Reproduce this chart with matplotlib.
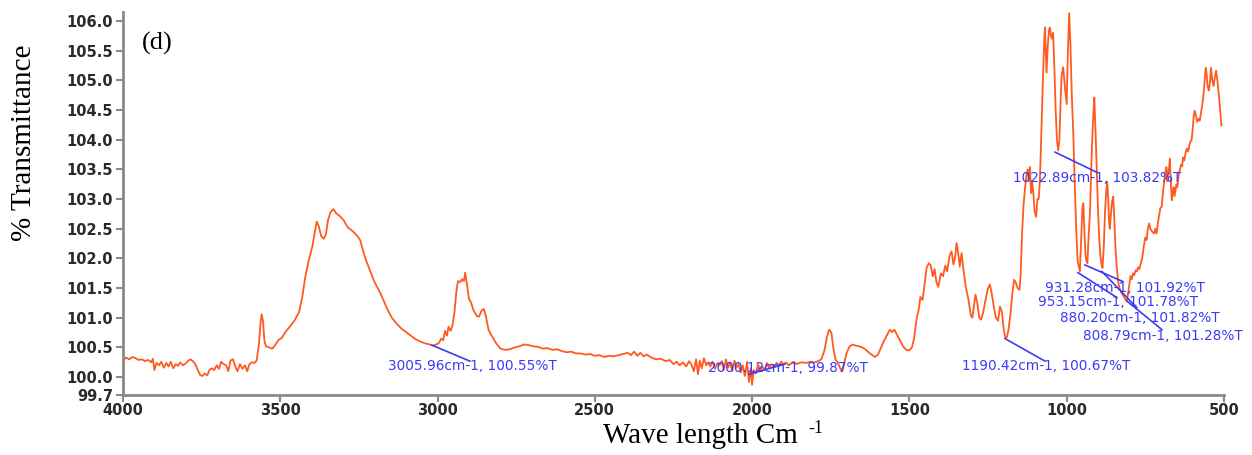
import matplotlib
matplotlib.use("Agg")
import matplotlib.pyplot as plt
import numpy as np

# FTIR spectrum (d): wavenumber (cm-1) and % transmittance
wavenumber = [
    4000, 3990, 3980, 3970, 3960, 3950, 3940, 3930, 3920, 3910, 3905, 3900, 3893, 3885,
    3878, 3870, 3862, 3855, 3848, 3840, 3832, 3825, 3818, 3810, 3800, 3792, 3785, 3778,
    3770, 3762, 3755, 3748, 3740, 3732, 3725, 3718, 3710, 3702, 3695, 3688, 3680, 3672,
    3665, 3658, 3650, 3643, 3636, 3628, 3620, 3612, 3605, 3598, 3590, 3582, 3575, 3568,
    3562, 3559, 3555, 3550, 3545, 3535, 3525, 3515, 3505, 3495, 3485, 3470, 3455, 3440,
    3430, 3420, 3410, 3398, 3390, 3384, 3378, 3370, 3362, 3355, 3348, 3340, 3331, 3322,
    3310, 3298, 3285, 3270, 3255, 3245, 3238, 3228, 3215, 3200, 3185, 3172, 3160, 3145,
    3130, 3115, 3100, 3085, 3070, 3055, 3040, 3025, 3012, 3006, 3000, 2995, 2988, 2982,
    2976, 2970, 2965, 2958, 2952, 2946, 2940, 2935, 2928, 2922, 2916, 2912, 2906, 2900,
    2893, 2885, 2875, 2868, 2860, 2853, 2846, 2838, 2828, 2815, 2800, 2785, 2770, 2755,
    2740, 2725, 2710, 2695, 2680, 2665, 2650, 2635, 2620, 2605, 2590, 2575, 2560, 2545,
    2530, 2515, 2500, 2485, 2470, 2455, 2440, 2425, 2410, 2395, 2385, 2375, 2365, 2355,
    2345, 2335, 2320, 2305, 2290, 2275, 2262, 2250, 2240, 2230, 2220, 2210, 2200, 2192,
    2185, 2178, 2172, 2166, 2160, 2153, 2146, 2140, 2133, 2126, 2118, 2110, 2103, 2096,
    2090, 2083, 2076, 2070, 2063, 2056, 2050, 2043, 2036, 2030, 2023, 2016, 2010, 2004,
    2000, 1995, 1988, 1981, 1975, 1968, 1960, 1953, 1946, 1938, 1930, 1922, 1915, 1907,
    1900, 1892, 1884, 1876, 1868, 1860, 1850, 1840, 1828, 1815, 1800, 1790, 1780, 1770,
    1762, 1755, 1748, 1742, 1735, 1728, 1720, 1713, 1708, 1700, 1690, 1680, 1670, 1660,
    1650, 1640, 1630, 1620, 1610, 1600, 1590, 1580, 1570, 1562, 1555, 1548, 1540, 1530,
    1520, 1510, 1500, 1492, 1485, 1478, 1470, 1465, 1458, 1452, 1445, 1438, 1432, 1426,
    1420, 1414, 1408, 1400, 1393, 1386, 1380, 1372, 1366, 1360, 1355, 1350, 1345, 1340,
    1334, 1328, 1320, 1312, 1305, 1300, 1295, 1290, 1284, 1278, 1272, 1265, 1258, 1250,
    1244, 1238, 1232, 1225, 1218, 1212, 1206, 1200, 1195, 1190, 1185, 1178, 1172, 1167,
    1162, 1156, 1150, 1146, 1142, 1137, 1133, 1128, 1124, 1120, 1117, 1113, 1110, 1106,
    1102, 1097, 1093, 1089, 1085, 1080, 1075, 1071, 1069, 1066, 1064, 1060, 1056, 1053,
    1050, 1047, 1043, 1039, 1035, 1031, 1027, 1023, 1019, 1016, 1011, 1005, 1000, 996,
    992, 988, 984, 979, 974, 969, 965, 961, 958, 954, 950, 947, 944, 940,
    937, 934, 930, 926, 922, 918, 915, 912, 908, 904, 900, 896, 892, 889,
    886, 882, 878, 874, 871, 868, 865, 863, 860, 856, 852, 848, 845, 841,
    836, 832, 828, 824, 818, 813, 809, 805, 801, 797, 793, 789, 785, 781,
    777, 773, 769, 765, 760, 755, 750, 746, 742, 738, 734, 728, 722, 718,
    714, 710, 706, 702, 698, 694, 690, 686, 683, 680, 677, 674, 672, 669,
    666, 663, 660, 657, 654, 651, 648, 644, 640, 636, 633, 630, 626, 622,
    618, 614, 610, 606, 603, 599, 596, 593, 589, 585, 581, 577, 573, 570,
    566, 562, 558, 555, 552, 548, 544, 541, 537, 533, 529, 525, 521, 517,
    513, 510, 508,
]
transmittance = [
    100.28, 100.33, 100.30, 100.34, 100.32, 100.29, 100.30, 100.27, 100.29, 100.25, 100.31, 100.12, 100.24, 100.20,
    100.26, 100.16, 100.24, 100.18, 100.26, 100.15, 100.22, 100.19, 100.25, 100.20, 100.23, 100.28, 100.30, 100.27,
    100.22, 100.12, 100.04, 100.02, 100.06, 100.03, 100.12, 100.15, 100.12, 100.20, 100.14, 100.26, 100.22, 100.20,
    100.10, 100.28, 100.30, 100.18, 100.10, 100.22, 100.14, 100.20, 100.10, 100.22, 100.25, 100.24, 100.28, 100.55,
    100.95, 101.06, 100.95, 100.60, 100.52, 100.50, 100.48, 100.55, 100.63, 100.66, 100.75, 100.85, 100.95, 101.10,
    101.35, 101.70, 101.95, 102.20, 102.45, 102.62, 102.55, 102.38, 102.33, 102.40, 102.65, 102.78, 102.83, 102.76,
    102.71, 102.64, 102.52, 102.46, 102.38, 102.30, 102.15, 101.98, 101.80, 101.60, 101.45, 101.30, 101.15, 101.00,
    100.90, 100.82, 100.76, 100.70, 100.64, 100.60, 100.57, 100.55, 100.53, 100.55, 100.56, 100.58, 100.65, 100.62,
    100.78, 100.70, 100.85, 100.78, 100.88, 101.10, 101.45, 101.62, 101.60, 101.65, 101.62, 101.76, 101.55, 101.32,
    101.25, 101.12, 101.03, 101.02, 101.12, 101.15, 101.02, 100.80, 100.70, 100.58, 100.48, 100.46, 100.47, 100.50,
    100.52, 100.55, 100.54, 100.52, 100.51, 100.48, 100.49, 100.46, 100.47, 100.44, 100.42, 100.43, 100.40, 100.40,
    100.38, 100.39, 100.36, 100.37, 100.34, 100.36, 100.35, 100.37, 100.39, 100.41, 100.37, 100.43, 100.36, 100.41,
    100.35, 100.38, 100.33, 100.30, 100.31, 100.27, 100.29, 100.22, 100.26, 100.20, 100.25, 100.18, 100.27, 100.20,
    100.10, 100.30, 100.05, 100.28, 100.15, 100.32, 100.20, 100.25, 100.18, 100.26, 100.14, 100.24, 100.20, 100.27,
    100.12, 100.30, 100.16, 100.25, 100.10, 100.28, 100.16, 100.22, 100.08, 100.20, 100.02, 100.26, 99.92, 100.15,
    99.87, 100.12, 100.06, 100.22, 100.10, 100.18, 100.12, 100.24, 100.16, 100.22, 100.17, 100.24, 100.20, 100.26,
    100.21, 100.25, 100.20, 100.23, 100.26, 100.22, 100.24, 100.25, 100.24, 100.26, 100.25, 100.27, 100.30, 100.45,
    100.68, 100.80, 100.75, 100.50, 100.30, 100.25, 100.15, 100.10, 100.22, 100.40, 100.52, 100.55, 100.53, 100.52,
    100.50, 100.47, 100.42, 100.38, 100.34, 100.38, 100.50, 100.62, 100.72, 100.80, 100.76, 100.80, 100.72, 100.62,
    100.52, 100.46, 100.45, 100.50, 100.65, 100.95, 101.15, 101.35, 101.30, 101.55, 101.85, 101.92, 101.88, 101.70,
    101.82, 101.60, 101.52, 101.75, 101.70, 101.88, 101.78, 102.05, 102.12, 101.90, 102.00, 102.26, 102.10, 101.86,
    102.09, 101.80, 101.50, 101.30, 101.05, 101.00, 101.20, 101.39, 101.25, 101.00, 100.97, 101.10, 101.30, 101.50,
    101.56, 101.40, 101.20, 101.00, 100.95, 101.19, 101.10, 100.80, 100.67, 100.67, 100.80, 101.10, 101.45, 101.64,
    101.60, 101.50, 101.47, 101.75, 102.40, 102.90, 103.15, 103.40, 103.50, 103.30, 103.54, 103.10, 103.30, 103.10,
    102.80, 102.70, 103.00, 103.00, 103.32, 104.20, 105.10, 105.70, 105.89, 105.40, 105.13, 105.60, 105.85, 105.89,
    105.75, 105.70, 105.80, 105.20, 104.50, 104.00, 103.82, 104.00, 104.70, 105.08, 105.22, 104.85, 104.60, 105.50,
    106.13, 105.60, 104.80, 104.10, 103.20, 102.40, 101.95, 101.85, 101.78, 102.30, 102.85, 102.93, 102.50, 102.05,
    101.95, 101.92, 102.40, 102.76, 103.50, 104.10, 104.45, 104.71, 104.10, 103.40, 102.76, 102.30, 102.00, 101.90,
    101.84, 102.20, 102.80, 103.15, 103.29, 103.00, 102.60, 102.50, 102.70, 102.95, 103.04, 102.60, 102.20, 101.87,
    101.60, 101.50, 101.45, 101.40, 101.36, 101.30, 101.28, 101.40, 101.55, 101.70, 101.65, 101.75, 101.72, 101.80,
    101.78, 101.85, 101.82, 101.90, 102.00, 102.20, 102.35, 102.31, 102.50, 102.59, 102.50, 102.45, 102.42, 102.50,
    102.42, 102.60, 102.72, 102.85, 102.87, 103.10, 103.30, 103.45, 103.54, 103.30, 103.45, 103.55, 103.68, 103.30,
    102.98, 103.10, 103.20, 103.05, 103.15, 103.25, 103.20, 103.40, 103.50, 103.58, 103.55, 103.70, 103.65, 103.78,
    103.85, 103.80, 103.90, 103.98, 103.99, 104.20, 104.40, 104.49, 104.40, 104.30, 104.35, 104.32, 104.45, 104.55,
    104.70, 104.95, 105.21, 105.10, 104.90, 104.83, 105.00, 105.21, 105.00, 104.90, 105.05, 105.16, 105.00, 104.80,
    104.55, 104.35, 104.24,
]

# peak labels
peak_labels = [
    "3005.96cm-1, 100.55%T", "2000.12cm-1, 99.87%T", "1190.42cm-1, 100.67%T",
    "1022.89cm-1, 103.82%T", "931.28cm-1, 101.92%T", "953.15cm-1, 101.78%T",
    "880.20cm-1, 101.82%T", "808.79cm-1, 101.28%T",
]
# leader line start/end and label anchor (left, centre) in data units
line_start = [(3018, 100.54), (2010, 100.05), (1196, 100.65), (1037, 103.79),
              (942, 101.89), (964, 101.76), (888, 101.78), (808, 101.28)]
line_end = [(2897, 100.27), (1896, 100.22), (1069, 100.27), (904, 103.45),
            (821, 101.61), (840, 101.34), (777, 101.17), (697, 100.80)]
label_pos = [(3158, 100.19), (2140, 100.16), (1333, 100.19), (1171, 103.35),
             (1069, 101.50), (1091, 101.26), (1021, 101.00), (948, 100.70)]

x_ticks = [4000, 3500, 3000, 2500, 2000, 1500, 1000, 500]
y_ticks = [99.7, 100.0, 100.5, 101.0, 101.5, 102.0, 102.5, 103.0,
           103.5, 104.0, 104.5, 105.0, 105.5, 106.0]

fig = plt.figure(figsize=(12.52, 4.55), dpi=100)
ax = fig.add_axes([0.0982, 0.1319, 0.8794, 0.8417])

ax.plot(wavenumber, transmittance, color='#ff5a1f', lw=1.3)

blue = '#3b3bf5'
for lab, p0, p1, tp in zip(peak_labels, line_start, line_end, label_pos):
    ax.plot([p0[0], p1[0]], [p0[1], p1[1]], color=blue, lw=1.2)
    ax.text(tp[0], tp[1], lab, color=blue, fontsize=9.8, ha='left', va='center',
            family='DejaVu Sans')

ax.set_xlim(4000, 500)
ax.set_ylim(99.7, 106.15)
ax.set_xticks(x_ticks)
ax.set_yticks(y_ticks)
ax.set_xticklabels([str(t) for t in x_ticks])
ax.set_yticklabels(['%.1f' % t for t in y_ticks])

for s in ['top', 'right']:
    ax.spines[s].set_visible(False)
for s in ['left', 'bottom']:
    ax.spines[s].set_color('#8a8a8a')
    ax.spines[s].set_linewidth(2)

ax.tick_params(axis='both', colors='#8a8a8a', width=1.5, length=5,
               labelcolor='#2a2a2a', labelsize=10.5)
for lbl in ax.get_xticklabels() + ax.get_yticklabels():
    lbl.set_fontweight('bold')
    lbl.set_family('DejaVu Sans')
ax.tick_params(axis='y', pad=2)
ax.tick_params(axis='x', pad=1)

# axis titles placed as in the original figure
fig.text(0.019, 0.686, '% Transmittance', family='Liberation Serif', fontsize=21,
         rotation=90, ha='center', va='center')
fig.text(603 / 1252, 1 - 443 / 455, 'Wave length Cm', family='Liberation Serif',
         fontsize=21, ha='left', va='baseline')
fig.text(808 / 1252, 1 - 433 / 455, '-1', family='Liberation Serif',
         fontsize=13, ha='left', va='baseline')
ax.text(0.017, 0.919, '(d)', transform=ax.transAxes, family='Liberation Serif',
        fontsize=19, ha='left', va='center')

plt.savefig('out.png', dpi=100)
